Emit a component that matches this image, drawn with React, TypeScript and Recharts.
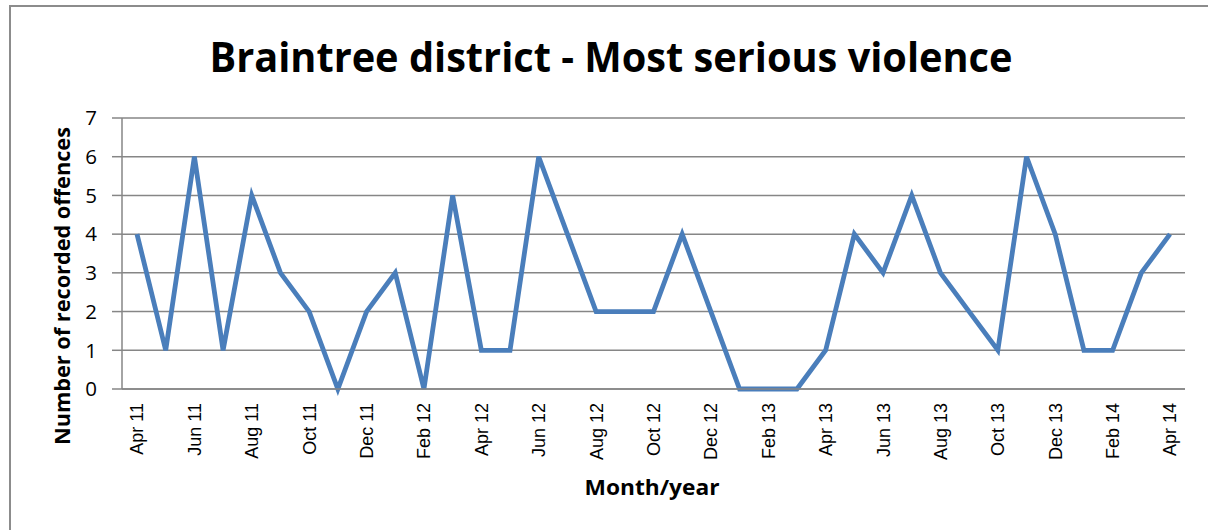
import React from "react";
import { LineChart, Line, XAxis, YAxis, CartesianGrid, Label } from "recharts";

const months: string[] = [
  "Apr 11", "May 11", "Jun 11", "Jul 11", "Aug 11", "Sep 11", "Oct 11", "Nov 11", "Dec 11",
  "Jan 12", "Feb 12", "Mar 12", "Apr 12", "May 12", "Jun 12", "Jul 12", "Aug 12", "Sep 12",
  "Oct 12", "Nov 12", "Dec 12", "Jan 13", "Feb 13", "Mar 13", "Apr 13", "May 13", "Jun 13",
  "Jul 13", "Aug 13", "Sep 13", "Oct 13", "Nov 13", "Dec 13", "Jan 14", "Feb 14", "Mar 14",
  "Apr 14",
];

const offences: number[] = [
  4, 1, 6, 1, 5, 3, 2, 0, 2,
  3, 0, 5, 1, 1, 6, 4, 2, 2,
  2, 4, 2, 0, 0, 0, 1, 4, 3,
  5, 3, 2, 1, 6, 4, 1, 1, 3,
  4,
];

const yTicks: number[] = [0, 1, 2, 3, 4, 5, 6, 7];

const data = months.map((m, i) => ({ month: m, value: offences[i] }));

const GRID = "#868686";

const XTick = (props: any) => {
  const { x, y, payload } = props;
  const ty = y + 14;
  return (
    <text
      x={x}
      y={ty}
      transform={`rotate(-90, ${x}, ${ty})`}
      textAnchor="end"
      dy="0.36em"
      fontFamily="'Liberation Sans', Arial, sans-serif"
      fontSize={18}
      fill="#000"
    >
      {payload.value}
    </text>
  );
};

const YLabel = () => (
  <text
    x={70}
    y={286}
    transform="rotate(-90, 70, 286)"
    textAnchor="middle"
    fontFamily="'Open Sans', sans-serif"
    fontWeight="bold"
    fontSize={21}
    textLength={318}
    lengthAdjust="spacingAndGlyphs"
    fill="#000"
  >
    Number of recorded offences
  </text>
);

const XLabel = () => (
  <text
    x={652}
    y={495}
    textAnchor="middle"
    fontFamily="'Open Sans', sans-serif"
    fontWeight="bold"
    fontSize={21}
    textLength={135}
    lengthAdjust="spacingAndGlyphs"
    fill="#000"
  >
    Month/year
  </text>
);

export default function App() {
  return (
    <div
      style={{
        position: "absolute",
        left: 0,
        top: 0,
        width: 1208,
        height: 530,
        overflow: "hidden",
        background: "#fff",
      }}
    >
      <div
        style={{
          position: "absolute",
          left: 9,
          top: 5,
          width: 1199,
          height: 525,
          borderLeft: "2px solid #8c8c8c",
          borderTop: "2px solid #8c8c8c",
          boxSizing: "border-box",
        }}
      />
      <svg
        width={1208}
        height={120}
        style={{ position: "absolute", left: 0, top: 0 }}
      >
        <text
          x={611}
          y={72}
          textAnchor="middle"
          fontFamily="'Open Sans', sans-serif"
          fontWeight="bold"
          fontSize={41}
          textLength={803}
          lengthAdjust="spacingAndGlyphs"
          fill="#000"
        >
          Braintree district - Most serious violence
        </text>
      </svg>
      <div style={{ position: "absolute", left: 0, top: 0 }}>
        <LineChart
          width={1208}
          height={530}
          data={data}
          margin={{ top: 118, right: 23, left: 0, bottom: 0 }}
        >
          <CartesianGrid
            horizontal={true}
            vertical={false}
            stroke={GRID}
            strokeWidth={1.5}
          />
          <XAxis
            dataKey="month"
            height={141}
            interval={1}
            padding={{ left: 15, right: 15 }}
            tickLine={false}
            tickSize={0}
            tickMargin={0}
            axisLine={{ stroke: GRID, strokeWidth: 1.5 }}
            tick={<XTick />}
          >
            <Label content={<XLabel />} />
          </XAxis>
          <YAxis
            width={122}
            domain={[0, 7]}
            ticks={yTicks}
            interval={0}
            tickSize={10}
            tickMargin={15}
            tickLine={{ stroke: GRID, strokeWidth: 1.5 }}
            axisLine={{ stroke: GRID, strokeWidth: 1.5 }}
            tick={{
              fill: "#000",
              fontSize: 20.5,
              fontFamily: "'Open Sans', sans-serif",
            }}
          >
            <Label content={<YLabel />} />
          </YAxis>
          <Line
            type="linear"
            dataKey="value"
            stroke="#4A7EBB"
            strokeWidth={4.8}
            dot={false}
            activeDot={false}
            isAnimationActive={false}
          />
        </LineChart>
      </div>
    </div>
  );
}
